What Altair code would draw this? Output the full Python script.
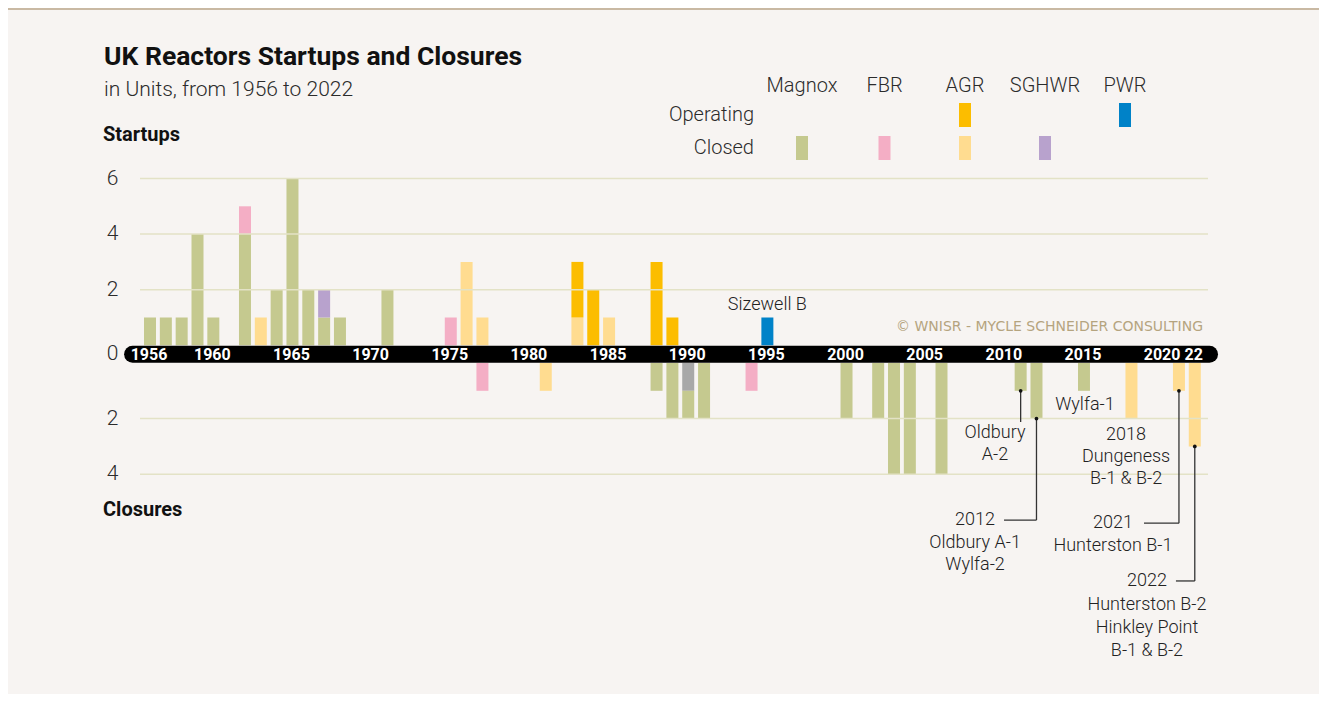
import altair as alt
import pandas as pd

# ---------------- data ----------------
START_YEAR = [1956, 1957, 1958, 1959, 1960, 1962, 1962, 1963, 1964, 1965, 1966, 1967, 1967,
              1968, 1971, 1975, 1976, 1977, 1983, 1983, 1984, 1985, 1988, 1989, 1995]
START_KIND = ["Magnox closed", "Magnox closed", "Magnox closed", "Magnox closed", "Magnox closed",
              "Magnox closed", "FBR closed", "AGR closed", "Magnox closed", "Magnox closed",
              "Magnox closed", "Magnox closed", "SGHWR closed", "Magnox closed", "Magnox closed",
              "FBR closed", "AGR closed", "AGR closed", "AGR closed", "AGR operating",
              "AGR operating", "AGR closed", "AGR operating", "AGR operating", "PWR operating"]
START_N = [1, 1, 1, 4, 1, 4, 1, 1, 2, 6, 2, 1, 1, 1, 2, 1, 3, 1, 1, 2, 2, 1, 3, 1, 1]

CLOSE_YEAR = [1977, 1981, 1988, 1989, 1990, 1990, 1991, 1994, 2000, 2002, 2003, 2004, 2006,
              2011, 2012, 2015, 2018, 2021, 2022]
CLOSE_KIND = ["FBR closed", "AGR closed", "Magnox closed", "Magnox closed", "SGHWR shut",
              "Magnox closed", "Magnox closed", "FBR closed", "Magnox closed", "Magnox closed",
              "Magnox closed", "Magnox closed", "Magnox closed", "Magnox closed", "Magnox closed",
              "Magnox closed", "AGR closed", "AGR closed", "AGR closed"]
CLOSE_N = [1, 1, 1, 2, 1, 1, 2, 1, 2, 2, 4, 4, 4, 1, 2, 1, 2, 1, 3]

KINDS = ["Magnox closed", "FBR closed", "AGR operating", "AGR closed",
         "SGHWR closed", "SGHWR shut", "PWR operating"]
COLORS = ["#c5c98f", "#f4aec5", "#fcbd00", "#ffdc90", "#b8a2cd", "#a8a8a8", "#0082c8"]

GRID_START = [2, 4, 6]
GRID_CLOSE = [2, 4]
AXIS_YEARS = [1956, 1960, 1965, 1970, 1975, 1980, 1985, 1990, 1995, 2000, 2005, 2010,
              2015, 2020, 2022]
AXIS_LABELS = ["1956", "1960", "1965", "1970", "1975", "1980", "1985", "1990", "1995",
               "2000", "2005", "2010", "2015", "2020", "22"]

LEG_TYPES = ["Magnox", "FBR", "AGR", "SGHWR", "PWR"]
LEG_ROWS = ["Operating", "Closed"]
LEG_SWATCH_TYPE = ["AGR", "PWR", "Magnox", "FBR", "AGR", "SGHWR"]
LEG_SWATCH_ROW = ["Operating", "Operating", "Closed", "Closed", "Closed", "Closed"]
LEG_SWATCH_KIND = ["AGR operating", "PWR operating", "Magnox closed", "FBR closed",
                   "AGR closed", "SGHWR closed"]

# annotations below the closures (year position, depth in units below the closure axis)
ANN_X = [2009.38, 2009.38, 2008.12, 2008.12, 2008.12, 2015.06, 2017.66, 2017.66, 2017.66,
         2016.83, 2016.83, 2018.98, 2018.98, 2018.98, 2018.98]
ANN_D = [2.52, 3.31, 5.65, 6.47, 7.27, 1.51, 2.59, 3.38, 4.17, 5.76, 6.58, 7.84, 8.71, 9.53, 10.36]
ANN_T = ["Oldbury", "A-2", "2012", "Oldbury A-1", "Wylfa-2", "Wylfa-1", "2018", "Dungeness",
         "B-1 & B-2", "2021", "Hunterston B-1", "2022", "Hunterston B-2", "Hinkley Point",
         "B-1 & B-2"]

CONN_YEAR = [2011, 2012, 2021, 2022]
CONN_END = [2.12, 5.65, 5.76, 7.84]
CONN_LEFT = [None, 2009.95, 2018.79, 2020.81]

# ---------------- layout ----------------
W, H = 1068, 492
PAD_L, PAD_T, PAD_R, PAD_B = 132, 170.5, 111, 23.5
X_DOMAIN = [1955.368, 2022.835]
Y_DOMAIN = [-11.698, 6]
OFF = 0.637          # gap (in units) taken by the black year band
BAND_Y = -0.318
FONT = "Roboto"
BG = "#f7f4f2"


def rx(px):
    return px - 140


def ry(py):
    return py - 178.5


xs = alt.Scale(domain=X_DOMAIN, nice=False, zero=False, padding=0)
ys = alt.Scale(domain=Y_DOMAIN, nice=False, zero=False, padding=0)

df = pd.concat([
    pd.DataFrame({"year": START_YEAR, "kind": START_KIND, "n": START_N, "side": "start"}),
    pd.DataFrame({"year": CLOSE_YEAR, "kind": CLOSE_KIND, "n": CLOSE_N, "side": "close"}),
], ignore_index=True)
df["k"] = range(len(df))

bars = alt.Chart(df).transform_stack(
    stack="n", groupby=["year", "side"], as_=["s0", "s1"], sort=[alt.SortField("k")]
).transform_calculate(
    b0=f"datum.side == 'start' ? datum.s0 : -datum.s0 - {OFF}",
    b1=f"datum.side == 'start' ? datum.s1 : -datum.s1 - {OFF}",
).mark_bar(width=12).encode(
    x=alt.X("year:Q", scale=xs, axis=None),
    y=alt.Y("b0:Q", scale=ys, axis=None),
    y2="b1:Q",
    color=alt.Color("kind:N", scale=alt.Scale(domain=KINDS, range=COLORS), legend=None),
)

grid_df = pd.concat([
    pd.DataFrame({"v": GRID_START, "side": "start"}),
    pd.DataFrame({"v": GRID_CLOSE, "side": "close"}),
], ignore_index=True)
grid = alt.Chart(grid_df).transform_calculate(
    gy=f"datum.side == 'start' ? datum.v : -datum.v - {OFF}"
).mark_rule(color="#e3e2c6", strokeWidth=1.5).encode(
    y=alt.Y("gy:Q", scale=ys, axis=None),
    x=alt.value(0), x2=alt.value(W),
)

ylab_df = pd.DataFrame({"v": [6, 4, 2, 0, 2, 4],
                        "side": ["start", "start", "start", "band", "close", "close"]})
ylabels = alt.Chart(ylab_df).transform_calculate(
    gy=f"datum.side == 'start' ? datum.v : (datum.side == 'band' ? {BAND_Y} : -datum.v - {OFF})",
    t="format(datum.v, 'd')",
).mark_text(font=FONT, fontSize=21, fontWeight=300, color="#2b2b2b",
            align="center", baseline="middle").encode(
    y=alt.Y("gy:Q", scale=ys, axis=None),
    x=alt.value(rx(112.5)),
    text="t:N",
)

band = alt.Chart(pd.DataFrame({"x0": [1954.9], "x1": [2022.93], "y": [BAND_Y]})).mark_rule(
    color="black", strokeWidth=17, strokeCap="round"
).encode(
    x=alt.X("x0:Q", scale=xs, axis=None), x2="x1:Q",
    y=alt.Y("y:Q", scale=ys, axis=None),
)

years = alt.Chart(pd.DataFrame({"year": AXIS_YEARS, "t": AXIS_LABELS, "y": BAND_Y})).mark_text(
    font=FONT, fontSize=16, fontWeight="bold", color="white", baseline="middle", dy=1, dx=-1
).encode(
    x=alt.X("year:Q", scale=xs, axis=None),
    y=alt.Y("y:Q", scale=ys, axis=None),
    text="t:N",
)

ann_df = pd.DataFrame({"x": ANN_X, "d": ANN_D, "t": ANN_T})
ann = alt.Chart(ann_df).transform_calculate(
    yy=f"-datum.d - {OFF}"
).mark_text(font=FONT, fontSize=18, fontWeight=300, color="#222222", baseline="middle").encode(
    x=alt.X("x:Q", scale=xs, axis=None),
    y=alt.Y("yy:Q", scale=ys, axis=None),
    text="t:N",
)

tot = df[df.side == "close"].groupby("year")["n"].sum()
conn_df = pd.DataFrame({"year": CONN_YEAR, "end": CONN_END,
                        "bottom": [float(tot[y]) for y in CONN_YEAR],
                        "left": CONN_LEFT})
vlines = alt.Chart(conn_df).transform_calculate(
    ya=f"-datum.bottom - {OFF}", yb=f"-datum.end - {OFF}"
).mark_rule(color="#333333", strokeWidth=1.3).encode(
    x=alt.X("year:Q", scale=xs, axis=None),
    y=alt.Y("ya:Q", scale=ys, axis=None), y2="yb:Q",
)
hlines = alt.Chart(conn_df.dropna()).transform_calculate(
    yb=f"-datum.end - {OFF}"
).mark_rule(color="#333333", strokeWidth=1.3).encode(
    x=alt.X("left:Q", scale=xs, axis=None), x2="year:Q",
    y=alt.Y("yb:Q", scale=ys, axis=None),
)
dots = alt.Chart(conn_df).transform_calculate(
    ya=f"-datum.bottom - {OFF}"
).mark_circle(color="#111111", size=14, opacity=1).encode(
    x=alt.X("year:Q", scale=xs, axis=None),
    y=alt.Y("ya:Q", scale=ys, axis=None),
)

sizewell = alt.Chart(pd.DataFrame({"x": [1995], "y": [1.45], "t": ["Sizewell B"]})).mark_text(
    font=FONT, fontSize=18, fontWeight=300, color="#222222", baseline="middle"
).encode(
    x=alt.X("x:Q", scale=xs, axis=None),
    y=alt.Y("y:Q", scale=ys, axis=None),
    text="t:N",
)


def label(text, px, py, size, weight="normal", color="#2b2b2b", align="left", font=FONT):
    return alt.Chart(pd.DataFrame({"t": [text]})).mark_text(
        font=font, fontSize=size, fontWeight=weight, color=color, align=align,
        baseline="middle"
    ).encode(x=alt.value(rx(px)), y=alt.value(ry(py)), text="t:N")


texts = [
    label("UK Reactors Startups and Closures", 104, 57, 26.5, "bold", "#111111"),
    label("in Units, from 1956 to 2022", 104, 90, 21, 300, "#2b2b2b"),
    label("Startups", 103, 135, 20, "bold", "#111111"),
    label("Closures", 103, 510, 20, "bold", "#111111"),
    label("© WNISR - MYCLE SCHNEIDER CONSULTING", 1203, 327, 14, "normal", "#b5a47f",
          "right", "DejaVu Sans"),
]

top_rule = alt.Chart(pd.DataFrame({"a": [0]})).mark_rule(color="#c9b9a3", strokeWidth=2).encode(
    x=alt.value(-PAD_L), x2=alt.value(W + PAD_R), y=alt.value(-PAD_T + 1)
)

# legend (decorative block, laid out by column / row)
COL_X = dict(zip(LEG_TYPES, [802, 884.5, 965, 1045, 1125]))
ROW_Y = dict(zip(LEG_ROWS, [115, 148]))
head_df = pd.DataFrame({"t": LEG_TYPES, "px": [rx(COL_X[t]) for t in LEG_TYPES], "py": ry(86)})
heads = alt.Chart(head_df).mark_text(font=FONT, fontSize=20, fontWeight=300, color="#2b2b2b",
                                     baseline="middle").encode(
    x=alt.X("px:Q", scale=None), y=alt.Y("py:Q", scale=None), text="t:N")
row_df = pd.DataFrame({"t": LEG_ROWS, "px": rx(754), "py": [ry(ROW_Y[r]) for r in LEG_ROWS]})
rows = alt.Chart(row_df).mark_text(font=FONT, fontSize=20, fontWeight=300, color="#2b2b2b",
                                   align="right", baseline="middle").encode(
    x=alt.X("px:Q", scale=None), y=alt.Y("py:Q", scale=None), text="t:N")
sw_df = pd.DataFrame({"kind": LEG_SWATCH_KIND,
                      "cx": [rx(COL_X[t]) for t in LEG_SWATCH_TYPE],
                      "cy": [ry(ROW_Y[r]) for r in LEG_SWATCH_ROW]})
swatches = alt.Chart(sw_df).transform_calculate(
    xa="datum.cx - 6", xb="datum.cx + 6", ya="datum.cy - 12", yb="datum.cy + 12"
).mark_rect().encode(
    x=alt.X("xa:Q", scale=None), x2="xb:Q",
    y=alt.Y("ya:Q", scale=None), y2="yb:Q",
    color=alt.Color("kind:N", scale=alt.Scale(domain=KINDS, range=COLORS), legend=None),
)

chart = alt.layer(
    top_rule, bars, grid, band, years, ylabels, ann, vlines, hlines, dots, sizewell,
    swatches, heads, rows, *texts
).properties(
    width=W, height=H,
    autosize=alt.AutoSizeParams(type="none"),
    padding={"left": PAD_L, "top": PAD_T, "right": PAD_R, "bottom": PAD_B},
    background=BG,
).configure_view(stroke=None)

chart.save("out.html", embed_options={"renderer": "svg", "actions": False})
